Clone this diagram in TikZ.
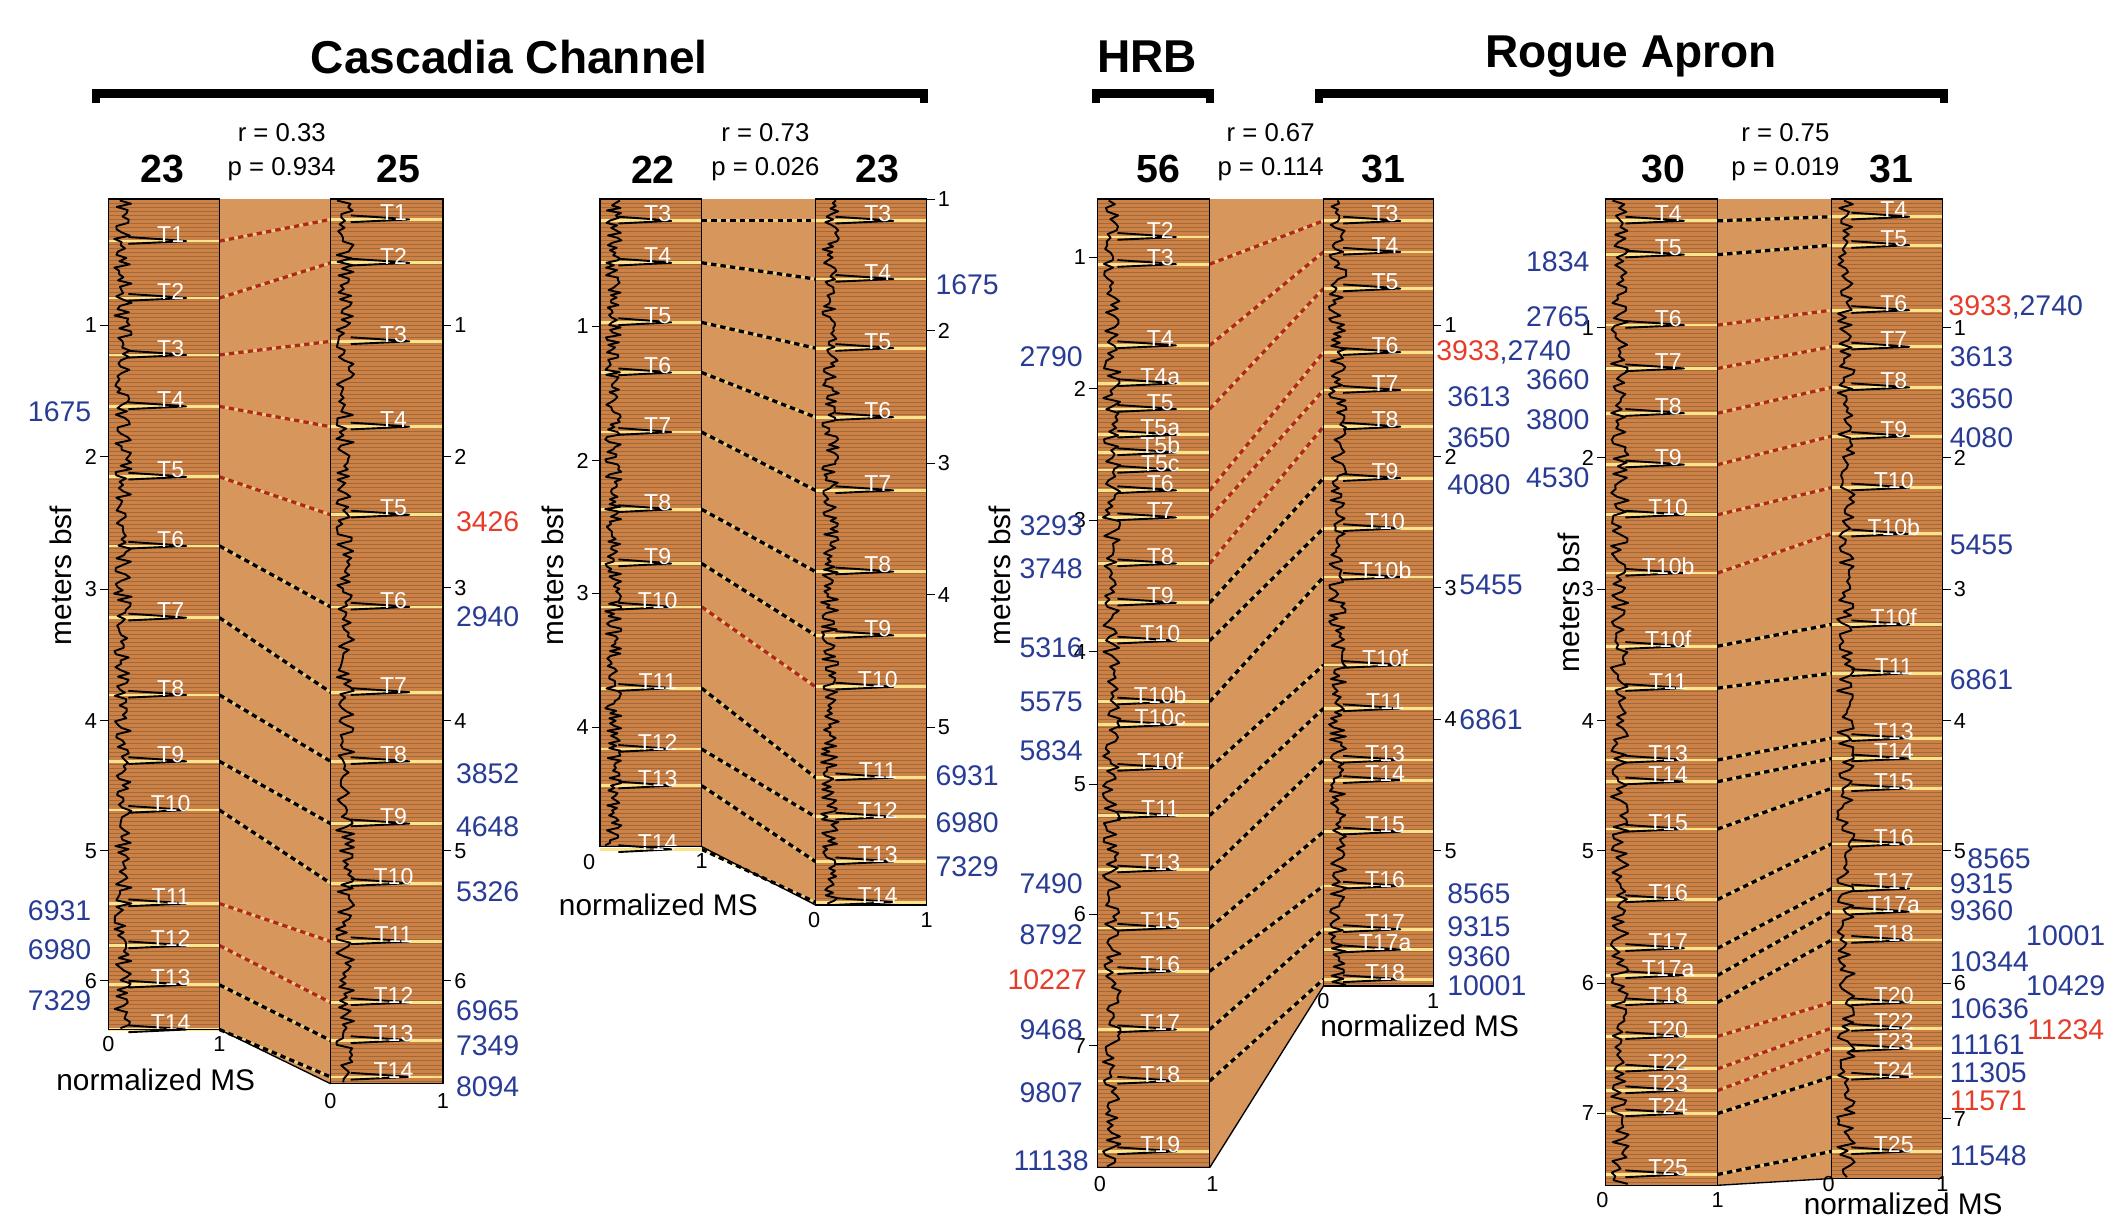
\documentclass[tikz,border=0pt]{standalone}
\usepackage{fontspec}
\setmainfont{Liberation Sans}
\begin{document}
\definecolor{corefill}{RGB}{204,130,70}
\definecolor{midfill}{RGB}{214,150,92}
\definecolor{band}{RGB}{250,228,140}
\definecolor{bl}{RGB}{40,60,150}
\definecolor{rd}{RGB}{230,60,40}
\definecolor{dr}{RGB}{175,40,30}
\pgfmathsetseed{42}
\newcommand\core[5]{%
 \fill[corefill] (#1,#3) rectangle (#2,#4);
 \pgfmathsetmacro\ya{#3+3}\pgfmathsetmacro\yb{#3+6}
 \foreach \yy in {\ya,\yb,...,#4}{\draw[corefill!80!black,line width=0.15pt] (#1,\yy) -- (#2,\yy);}
 \foreach \lab/\y in {#5}{\fill[band] (#1,\y+4) rectangle (#2,\y+6);}
 \draw[msline] plot[domain=#3+1:#4-1,samples=260,variable=\t] ({#1+(#2-#1)*(0.05+0.16*rnd)},\t);
 \foreach \lab/\y in {#5}{\draw[msline] ({#1+(#2-#1)*0.18},\y+2) -- ({#1+(#2-#1)*0.55},\y+4) -- ({#1+(#2-#1)*0.7},\y+5) -- ({#1+(#2-#1)*0.18},\y+7);
   \node[tl] at ({(#1+#2)/2+5},\y) {\lab};}
 \draw[line width=0.5pt] (#1,#3) rectangle (#2,#4);}
\newcommand\midzone[5]{%
 \fill[midfill] (#1,147) -- (#2,147) -- (#2,#4) -- (#1,#3) -- cycle;
 \foreach \a/\b/\c in {#5}{\draw[band,line width=1pt,opacity=0.7] (#1,\a+5) -- (#2,\b+5);}
 \foreach \a/\b/\c in {#5}{\draw[dl,\c] (#1,\a+5) -- (#2,\b+5);}
 \draw[line width=0.5pt] (#1,#3) -- (#2,#4);}
\newcommand\lticks[2]{\foreach \n/\y in {#2}{\draw (#1,\y) -- (#1-6,\y) node[ax,left,inner sep=1pt]{\n};}}
\newcommand\rticks[2]{\foreach \n/\y in {#2}{\draw (#1,\y) -- (#1+6,\y) node[ax,right,inner sep=1pt]{\n};}}
\newcommand\xax[3]{\node[ax,below,inner sep=1pt] at (#1,#3) {0}; \node[ax,below,inner sep=1pt] at (#2,#3) {1};}
\begin{tikzpicture}[x=0.5pt,y=-0.5pt,
 msline/.style={black,line width=0.7pt,line join=round},
 tl/.style={white,font=\fontsize{8.5}{9}\selectfont,inner sep=0pt},
 ax/.style={font=\fontsize{8}{9}\selectfont},
 dl/.style={dashed,dash pattern=on 2pt off 1.5pt,line width=1.2pt},
 bn/.style={bl,font=\fontsize{10.5}{12}\selectfont,inner sep=0pt},
 rn/.style={rd,font=\fontsize{10.5}{12}\selectfont,inner sep=0pt},
 hd/.style={font=\bfseries\fontsize{14.5}{16}\selectfont},
 st/.style={font=\fontsize{9.5}{11}\selectfont},
 ttl/.style={font=\bfseries\fontsize{17}{19}\selectfont},
 ylab/.style={rotate=90,font=\fontsize{11}{12}\selectfont},
 xlab/.style={font=\fontsize{11}{12}\selectfont},
 bar/.style={line width=3pt}]
\useasboundingbox (0,0) rectangle (1568,907);
% titles
\node[ttl] (t1) at (376,42) {Cascadia Channel};
\node[ttl] (t2) at (847,42) {HRB};
\node[ttl] (t3) at (1204,42) {Rogue Apron};
\draw[bar] (71,76) -- (71,69) -- (682,69) -- (682,76);
\draw[bar] (809,76) -- (809,69) -- (893,69) -- (893,76);
\draw[bar] (974,76) -- (974,69) -- (1435,69) -- (1435,76);
% ===== panel 1
\midzone{162}{244}{760}{800}{173/157/dr,215/189/dr,257/247/dr,295/310/dr,347/375/dr,398/443/black,451/506/black,508/557/black,557/603/black,593/647/black,662/690/dr,693/735/dr,722/763/black,755/790/black}
\core{80}{162}{147}{760}{T1/173,T2/215,T3/257,T4/295,T5/347,T6/398,T7/451,T8/508,T9/557,T10/593,T11/662,T12/693,T13/722,T14/755}
\core{244}{327}{147}{800}{T1/157,T2/189,T3/247,T4/310,T5/375,T6/443,T7/506,T8/557,T9/603,T10/647,T11/690,T12/735,T13/763,T14/790}
\lticks{80}{1/240,2/337,3/435,4/532,5/628,6/724}
\rticks{327}{1/240,2/337,3/434,4/532,5/628,6/724}
\xax{80}{162}{763}\xax{244}{327}{805}
\node[xlab] at (115,797) {normalized MS};
\node[ylab] at (45,425) {meters bsf};
\node[hd] at (120,125) {23}; \node[hd] at (294,125) {25};
\node[st] at (208,98) {r = 0.33}; \node[st] at (208,125) {p = 0.934};
\foreach \t/\y in {1675/304,6931/672,6980/701,7329/739}{\node[bn] at (44,\y) {\t};}
\foreach \t/\y in {2940/455,3852/571,4648/610,5326/658,6965/746,7349/772,8094/802}{\node[bn] at (360,\y) {\t};}
\node[rn] at (360,385) {3426};
% ===== panel 2
\midzone{518}{602}{625}{668}{158/158/black,189/201/black,233/252/black,270/303/black,314/357/black,371/417/black,411/464/black,443/502/dr,503/569/black,548/598/black,575/631/black,622/661/black}
\core{443}{518}{147}{625}{T3/158,T4/189,T5/233,T6/270,T7/314,T8/371,T9/411,T10/443,T11/503,T12/548,T13/575,T14/622}
\core{602}{684}{147}{668}{T3/158,T4/201,T5/252,T6/303,T7/357,T8/417,T9/464,T10/502,T11/569,T12/598,T13/631,T14/661}
\lticks{443}{1/241,2/340,3/438,4/537}
\rticks{684}{1/147,2/244,3/342,4/439,5/537}
\xax{435}{518}{628}\xax{601}{684}{671}
\node[xlab] at (486,668) {normalized MS};
\node[ylab] at (408,425) {meters bsf};
\node[hd] at (482,125) {22}; \node[hd] at (648,125) {23};
\node[st] at (565,98) {r = 0.73}; \node[st] at (565,125) {p = 0.026};
\foreach \t/\y in {1675/210,6931/573,6980/607,7329/640}{\node[bn] at (714,\y) {\t};}
% ===== panel 3
\midzone{893}{977}{862}{728}{190/158/dr,250/181/dr,297/208/dr,357/255/dr,377/283/dr,411/310/dr,440/348/black,468/385/black,513/421/black,562/486/black,597/518/black,637/556/black,680/609/black,712/649/black,755/681/black,793/718/black}
\core{810}{893}{147}{862}{T2/170,T3/190,T4/250,T4a/278,T5/297,T5a/316,T5b/329,T5c/342,T6/357,T7/377,T8/411,T9/440,T10/468,T10b/513,T10c/530,T10f/562,T11/597,T13/637,T15/680,T16/712,T17/755,T18/793,T19/845}
\core{977}{1058}{147}{728}{T3/158,T4/181,T5/208,T6/255,T7/283,T8/310,T9/348,T10/385,T10b/421,T10f/486,T11/518,T13/556,T14/571,T15/609,T16/649,T17/681,T17a/696,T18/718}
\lticks{810}{1/190,2/287,3/384,4/481,5/579,6/675,7/772}
\rticks{1058}{1/240,2/337,3/434,4/531,5/628}
\xax{812}{895}{866}\xax{977}{1058}{731}
\node[xlab] at (1048,757) {normalized MS};
\node[ylab] at (738,425) {meters bsf};
\node[hd] at (855,125) {56}; \node[hd] at (1021,125) {31};
\node[st] at (938,98) {r = 0.67}; \node[st] at (938,125) {p = 0.114};
\foreach \t/\y in {2790/263,3293/388,3748/420,5316/478,5575/518,5834/554,7490/652,8792/690,9468/760,9807/807,11138/857}{\node[bn] at (776,\y) {\t};}
\node[rn] at (773,723) {10227};
\node[anchor=west,inner sep=0pt] at (1060,260) {\textcolor{rd}{\fontsize{10.5}{12}\selectfont 3933}\textcolor{bl}{\fontsize{10.5}{12}\selectfont ,2740}};
\foreach \t/\y in {3613/293,3650/323,4080/358,8565/660,9315/684,9360/706,10001/728}{\node[bn,anchor=west] at (1068,\y) {\t};}
\foreach \t/\y in {5455/432,6861/531}{\node[bn,anchor=west] at (1077,\y) {\t};}
% ===== panel 4
\midzone{1268}{1352}{875}{870}{158/155/black,183/176/black,235/224/dr,267/251/dr,300/281/dr,338/317/dr,375/355/dr,418/389/dr,472/456/black,503/492/black,556/540/black,572/555/black,607/577/black,659/618/black,695/651/black,715/668/black,735/689/black,760/735/dr,784/754/dr,800/769/dr,817/790/black,862/845/black}
\core{1185}{1268}{147}{875}{T4/158,T5/183,T6/235,T7/267,T8/300,T9/338,T10/375,T10b/418,T10f/472,T11/503,T13/556,T14/572,T15/607,T16/659,T17/695,T17a/715,T18/735,T20/760,T22/784,T23/800,T24/817,T25/862}
\core{1352}{1434}{147}{870}{T4/155,T5/176,T6/224,T7/251,T8/281,T9/317,T10/355,T10b/389,T10f/456,T11/492,T13/540,T14/555,T15/577,T16/618,T17/651,T17a/668,T18/689,T20/735,T22/754,T23/769,T24/790,T25/845}
\lticks{1185}{1/242,2/338,3/435,4/532,5/628,6/726,7/822}
\rticks{1434}{1/242,2/338,3/435,4/532,5/628,6/726,7/826}
\xax{1183}{1268}{878}\xax{1350}{1434}{866}
\node[xlab] at (1405,889) {normalized MS};
\node[ylab] at (1158,445) {meters bsf};
\node[hd] at (1228,125) {30}; \node[hd] at (1396,125) {31};
\node[st] at (1318,98) {r = 0.75}; \node[st] at (1318,125) {p = 0.019};
\foreach \t/\y in {1834/193,2765/234,3660/280,3800/310,4530/353}{\node[bn] at (1150,\y) {\t};}
\node[anchor=west,inner sep=0pt] at (1438,227) {\textcolor{rd}{\fontsize{10.5}{12}\selectfont 3933}\textcolor{bl}{\fontsize{10.5}{12}\selectfont ,2740}};
\foreach \t/\y in {3613/263,3650/294,4080/323,5455/402,6861/502,9315/652,9360/672,10344/710,10636/745,11161/771,11305/792,11548/853}{\node[bn,anchor=west] at (1439,\y) {\t};}
\node[bn,anchor=west] at (1452,634) {8565};
\node[rn,anchor=west] at (1439,813) {11571};
\foreach \t/\y in {10001/691,10429/728}{\node[bn] at (1525,\y) {\t};}
\node[rn] at (1525,760) {11234};
\end{tikzpicture}
\end{document}
